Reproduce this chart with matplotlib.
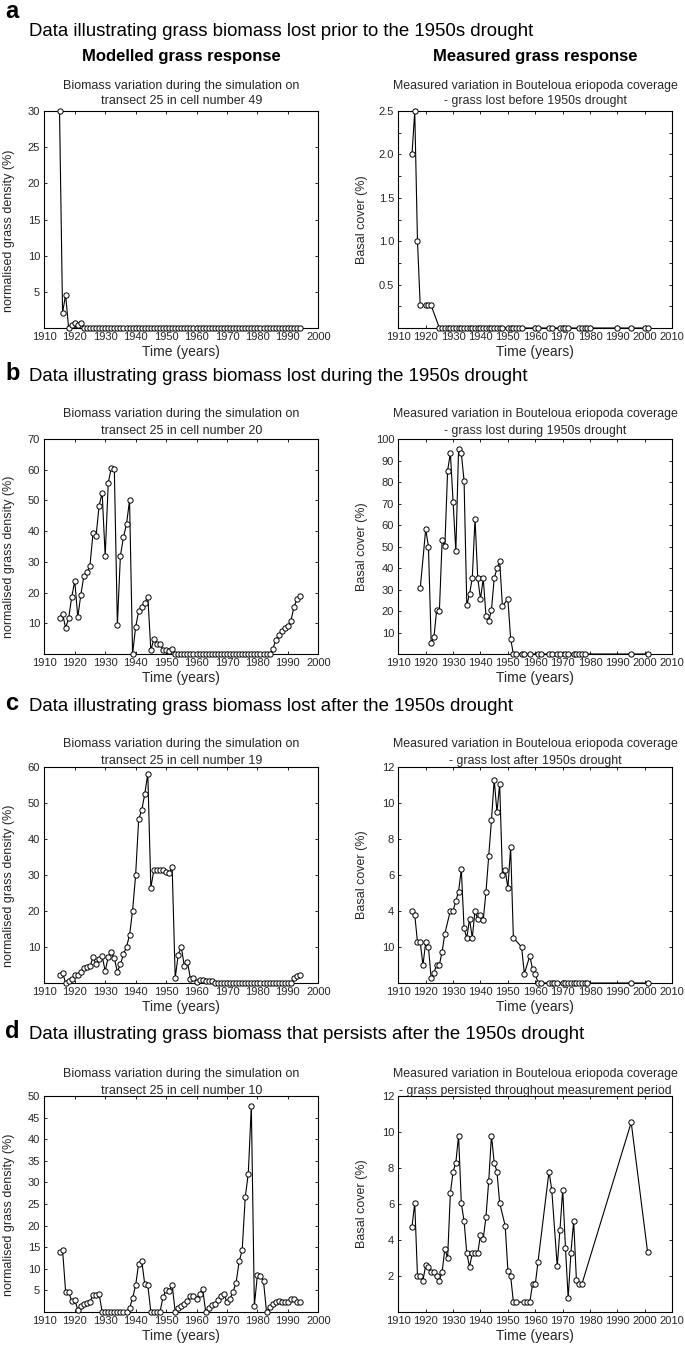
import matplotlib
matplotlib.use('Agg')
import matplotlib.pyplot as plt

plt.rcParams['font.family'] = ['Liberation Sans', 'DejaVu Sans']

# ---------------- data ----------------
model_years = [1915, 1916, 1917, 1918, 1919, 1920, 1921, 1922, 1923, 1924,
               1925, 1926, 1927, 1928, 1929, 1930, 1931, 1932, 1933, 1934,
               1935, 1936, 1937, 1938, 1939, 1940, 1941, 1942, 1943, 1944,
               1945, 1946, 1947, 1948, 1949, 1950, 1951, 1952, 1953, 1954,
               1955, 1956, 1957, 1958, 1959, 1960, 1961, 1962, 1963, 1964,
               1965, 1966, 1967, 1968, 1969, 1970, 1971, 1972, 1973, 1974,
               1975, 1976, 1977, 1978, 1979, 1980, 1981, 1982, 1983, 1984,
               1985, 1986, 1987, 1988, 1989, 1990, 1991, 1992, 1993, 1994]

model_a = [30, 2.1, 4.6, 0, 0.4, 0.7, 0.4, 0.7, 0, 0,
           0, 0, 0, 0, 0, 0, 0, 0, 0, 0,
           0, 0, 0, 0, 0, 0, 0, 0, 0, 0,
           0, 0, 0, 0, 0, 0, 0, 0, 0, 0,
           0, 0, 0, 0, 0, 0, 0, 0, 0, 0,
           0, 0, 0, 0, 0, 0, 0, 0, 0, 0,
           0, 0, 0, 0, 0, 0, 0, 0, 0, 0,
           0, 0, 0, 0, 0, 0, 0, 0, 0, 0]

model_b = [11.7, 13.1, 8.5, 11.7, 18.5, 23.8, 12.0, 19.3, 25.4, 26.7,
           28.7, 39.4, 38.4, 48.2, 52.5, 31.9, 55.6, 60.7, 60.2, 9.6,
           32.0, 38.0, 42.3, 50.0, 0, 8.8, 13.9, 15.3, 16.6, 18.7,
           1.2, 4.9, 3.4, 3.4, 1.3, 1.3, 1.0, 1.5, 0, 0,
           0, 0, 0, 0, 0, 0, 0, 0, 0, 0,
           0, 0, 0, 0, 0, 0, 0, 0, 0, 0,
           0, 0, 0, 0, 0, 0, 0, 0, 0, 0,
           1.5, 4.4, 6.3, 7.4, 8.5, 9.1, 10.8, 15.3, 17.8, 19.0]

model_c = [2.2, 2.9, 0, 0.5, 1.2, 2.1, 2.1, 3.1, 4.2, 4.4,
           4.6, 7.1, 5.3, 6.6, 7.5, 3.3, 7.2, 8.5, 6.9, 3.1,
           5.2, 8.0, 10.0, 13.3, 20.1, 30.0, 45.5, 48.0, 52.5, 58.1,
           26.4, 31.5, 31.3, 31.3, 31.5, 30.9, 30.5, 32.1, 1.4, 7.9,
           10.0, 4.6, 5.9, 1.2, 1.4, 0.3, 0.9, 0.7, 0.5, 0.5,
           0.5, 0, 0, 0, 0, 0, 0, 0, 0, 0,
           0, 0, 0, 0, 0, 0, 0, 0, 0, 0,
           0, 0, 0, 0, 0, 0, 0, 1.3, 2.0, 2.3]

model_d = [14.0, 14.4, 4.7, 4.7, 2.5, 2.8, 0.5, 1.3, 1.8, 2.0,
           2.3, 4.0, 4.0, 4.2, 0, 0, 0, 0, 0, 0,
           0, 0, 0, 0.9, 3.2, 6.2, 11.2, 11.9, 6.4, 6.2,
           0, 0, 0, 0, 3.5, 5.0, 4.8, 6.3, 0, 1.0,
           1.5, 1.8, 2.6, 3.8, 3.8, 3.1, 4.2, 5.4, 0.1, 0.9,
           1.6, 1.9, 2.7, 3.6, 4.1, 2.3, 3.1, 4.7, 6.8, 11.7,
           14.3, 26.6, 32.0, 47.7, 1.5, 8.6, 8.4, 7.1, 0, 1.2,
           1.9, 2.4, 2.6, 2.4, 2.4, 2.4, 3.0, 3.0, 2.4, 2.3]

meas_a_years = [1915, 1916, 1917, 1918, 1920, 1921, 1922, 1925, 1926, 1927,
                1928, 1929, 1930, 1931, 1932, 1933, 1934, 1935, 1936, 1937,
                1938, 1939, 1940, 1941, 1942, 1943, 1944, 1945, 1946, 1947,
                1948, 1950, 1951, 1952, 1953, 1954, 1955, 1960, 1961, 1965,
                1966, 1969, 1970, 1971, 1972, 1976, 1977, 1978, 1979, 1980,
                1990, 1995, 2000, 2001]
meas_a = [2.0, 2.5, 1.0, 0.26, 0.26, 0.26, 0.26, 0, 0, 0,
          0, 0, 0, 0, 0, 0, 0, 0, 0, 0,
          0, 0, 0, 0, 0, 0, 0, 0, 0, 0,
          0, 0, 0, 0, 0, 0, 0, 0, 0, 0,
          0, 0, 0, 0, 0, 0, 0, 0, 0, 0,
          0, 0, 0, 0]

meas_b_years = [1918, 1920, 1921, 1922, 1923, 1924, 1925, 1926, 1927, 1928,
                1929, 1930, 1931, 1932, 1933, 1934, 1935, 1936, 1937, 1938,
                1939, 1940, 1941, 1942, 1943, 1944, 1945, 1946, 1947, 1948,
                1950, 1951, 1952, 1953, 1955, 1956, 1958, 1961, 1962, 1965,
                1966, 1968, 1969, 1971, 1972, 1974, 1975, 1976, 1977, 1978,
                1995, 2001]
meas_b = [30.5, 58.0, 50.0, 5.0, 7.7, 20.4, 20.1, 53.0, 50.4, 85.3,
          93.4, 70.7, 47.7, 95.5, 93.3, 80.6, 22.7, 28.0, 35.2, 63.0,
          35.2, 25.5, 35.2, 17.8, 15.3, 20.5, 35.2, 39.8, 43.2, 22.3,
          25.5, 7.1, 0, 0, 0, 0, 0, 0, 0, 0,
          0, 0, 0, 0, 0, 0, 0, 0, 0, 0,
          0, 0]

meas_c_years = [1915, 1916, 1917, 1918, 1919, 1920, 1921, 1922, 1923, 1924,
                1925, 1926, 1927, 1929, 1930, 1931, 1932, 1933, 1934, 1935,
                1936, 1937, 1938, 1939, 1940, 1941, 1942, 1943, 1944, 1945,
                1946, 1947, 1948, 1949, 1950, 1951, 1952, 1955, 1956, 1958,
                1959, 1960, 1961, 1962, 1965, 1966, 1967, 1968, 1970, 1971,
                1972, 1973, 1974, 1975, 1976, 1977, 1978, 1979, 1995, 2001]
meas_c = [4.02, 3.8, 2.27, 2.27, 0.99, 2.27, 1.99, 0.26, 0.56, 1.02,
          1.02, 1.75, 2.75, 4.02, 4.02, 4.56, 5.08, 6.33, 3.03, 2.51,
          3.55, 2.51, 4.02, 3.53, 3.76, 3.5, 5.06, 7.05, 9.04, 11.3,
          9.5, 11.05, 6.02, 6.29, 5.28, 7.53, 2.51, 2.0, 0.52, 1.5,
          0.78, 0.5, 0, 0, 0, 0, 0, 0, 0, 0,
          0, 0, 0, 0, 0, 0, 0, 0, 0, 0]

meas_d_years = [1915, 1916, 1917, 1918, 1919, 1920, 1921, 1922, 1923, 1924,
                1925, 1926, 1927, 1928, 1929, 1930, 1931, 1932, 1933, 1934,
                1935, 1936, 1937, 1938, 1939, 1940, 1941, 1942, 1943, 1944,
                1945, 1946, 1947, 1949, 1950, 1951, 1952, 1953, 1956, 1957,
                1958, 1959, 1960, 1961, 1965, 1966, 1968, 1969, 1970, 1971,
                1972, 1973, 1974, 1975, 1976, 1977, 1995, 2001]
meas_d = [4.75, 6.05, 2.0, 2.0, 1.75, 2.6, 2.5, 2.25, 2.25, 2.0,
          1.75, 2.25, 3.5, 3.0, 6.6, 7.8, 8.3, 9.8, 6.05, 5.05,
          3.27, 2.5, 3.27, 3.27, 3.27, 4.3, 4.05, 5.3, 7.28, 9.8,
          8.3, 7.8, 6.05, 4.8, 2.3, 2.0, 0.55, 0.55, 0.55, 0.55,
          0.55, 1.55, 1.55, 2.8, 7.8, 6.8, 2.55, 4.57, 6.8, 3.58,
          0.78, 3.29, 5.06, 1.79, 1.55, 1.55, 10.53, 3.31]

panel_letters = ['a', 'b', 'c', 'd']
row_titles = [
    'Data illustrating grass biomass lost prior to the 1950s drought',
    'Data illustrating grass biomass lost during the 1950s drought',
    'Data illustrating grass biomass lost after the 1950s drought',
    'Data illustrating grass biomass that persists after the 1950s drought',
]
model_cells = ['49', '20', '19', '10']
meas_sub = [
    '- grass lost before 1950s drought',
    '- grass lost during 1950s drought',
    '- grass lost after 1950s drought',
    '- grass persisted throughout measurement period',
]

left_yticks = [[5, 10, 15, 20, 25, 30], [10, 20, 30, 40, 50, 60, 70],
               [10, 20, 30, 40, 50, 60], [5, 10, 15, 20, 25, 30, 35, 40, 45, 50]]
right_yticks = [[0.25, 0.5, 0.75, 1.0, 1.25, 1.5, 1.75, 2.0, 2.25, 2.5],
                [10, 20, 30, 40, 50, 60, 70, 80, 90, 100],
                [2, 4, 6, 8, 10, 12],
                [2, 4, 6, 8, 10, 12]]
right_ylabels = [['', '0.5', '', '1.0', '', '1.5', '', '2.0', '', '2.5'],
                 ['10', '20', '30', '40', '50', '60', '70', '80', '90', '100'],
                 ['10', '4', '6', '8', '10', '12'],
                 ['2', '4', '6', '8', '10', '12']]
left_xticks = [1910, 1920, 1930, 1940, 1950, 1960, 1970, 1980, 1990, 2000]
right_xticks = [1910, 1920, 1930, 1940, 1950, 1960, 1970, 1980, 1990, 2000, 2010]

# ---------------- layout ----------------
W, H = 685, 1346
fig = plt.figure(figsize=(W / 100, H / 100), dpi=100)
fig.patch.set_facecolor('white')

rows = [(111, 328), (439, 654), (767, 983), (1096, 1312)]
cols = [(44.3, 318.3), (398.3, 672.3)]
letter_base = [18, 380, 710, 1038]
title_base = [36, 381, 711, 1039]
sub_base = [(89, 104), (417, 434), (747, 764), (1077, 1094)]

TXT = '#262626'


def fx(x):
    return x / W


def fy(y):
    return 1 - y / H


def add_ax(c, r):
    x0, x1 = cols[c]
    y0, y1 = rows[r]
    return fig.add_axes([fx(x0), fy(y1), (x1 - x0) / W, (y1 - y0) / H])


def style(ax):
    for s in ax.spines.values():
        s.set_linewidth(0.8)
        s.set_color('black')
    ax.tick_params(direction='in', top=True, right=True, length=2.5,
                   width=0.6, labelsize=8, pad=3, labelcolor=TXT)


model_data = [model_a, model_b, model_c, model_d]
meas_years = [meas_a_years, meas_b_years, meas_c_years, meas_d_years]
meas_data = [meas_a, meas_b, meas_c, meas_d]

for r in range(4):
    fig.text(fx(5), fy(letter_base[r]), panel_letters[r], fontsize=17,
             fontweight='bold', va='baseline', ha='left', color='black')
    fig.text(fx(29), fy(title_base[r]), row_titles[r], fontsize=13.4,
             va='baseline', ha='left', color='black')

    # model
    ax = add_ax(0, r)
    ax.plot(model_years, model_data[r], '-o', color='black', lw=0.8,
            ms=3.8, mfc='white', mec='black', mew=0.7, clip_on=False, zorder=3)
    ax.set_xlim(1910, 2000)
    ax.set_ylim(0, left_yticks[r][-1])
    ax.set_xticks(left_xticks)
    ax.set_yticks(left_yticks[r])
    style(ax)
    ax.set_ylabel('normalised grass density (%)', fontsize=9, color=TXT)
    ax.yaxis.set_label_coords(-0.107, 0.45)
    ax.set_xlabel('Time (years)', fontsize=10, color=TXT, labelpad=2)
    cx = (cols[0][0] + cols[0][1]) / 2
    fig.text(fx(cx), fy(sub_base[r][0]),
             'Biomass variation during the simulation on', fontsize=9,
             ha='center', va='baseline', color=TXT)
    fig.text(fx(cx), fy(sub_base[r][1]),
             'transect 25 in cell number ' + model_cells[r], fontsize=9,
             ha='center', va='baseline', color=TXT)

    # measured
    ax2 = add_ax(1, r)
    ax2.plot(meas_years[r], meas_data[r], '-o', color='black', lw=0.8,
             ms=3.8, mfc='white', mec='black', mew=0.7, clip_on=False, zorder=3)
    ax2.set_xlim(1910, 2010)
    ax2.set_ylim(0, right_yticks[r][-1])
    ax2.set_xticks(right_xticks)
    ax2.set_yticks(right_yticks[r])
    ax2.set_yticklabels(right_ylabels[r])
    style(ax2)
    ax2.set_ylabel('Basal cover (%)', fontsize=9, color=TXT)
    ax2.yaxis.set_label_coords(-0.112, 0.5)
    ax2.set_xlabel('Time (years)', fontsize=10, color=TXT, labelpad=2)
    cx2 = (cols[1][0] + cols[1][1]) / 2
    fig.text(fx(cx2), fy(sub_base[r][0]),
             'Measured variation in Bouteloua eriopoda coverage', fontsize=8.9,
             ha='center', va='baseline', color=TXT)
    fig.text(fx(cx2), fy(sub_base[r][1]), meas_sub[r], fontsize=8.9,
             ha='center', va='baseline', color=TXT)

fig.text(fx((cols[0][0] + cols[0][1]) / 2), fy(61), 'Modelled grass response',
         fontsize=12, fontweight='bold', ha='center', va='baseline', color='black')
fig.text(fx((cols[1][0] + cols[1][1]) / 2), fy(61), 'Measured grass response',
         fontsize=12, fontweight='bold', ha='center', va='baseline', color='black')

fig.savefig('out.png', dpi=100, facecolor='white')
